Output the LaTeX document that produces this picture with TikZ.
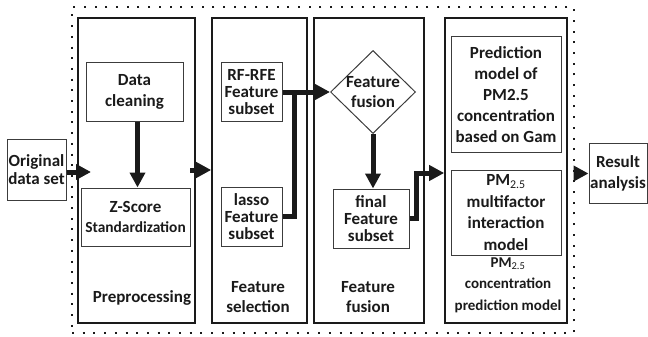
\documentclass[tikz,border=0pt]{standalone}
\usepackage{fontspec}
\setmainfont{Carlito}
\usetikzlibrary{arrows.meta,shapes.geometric}
\definecolor{ink}{HTML}{1A1A1A}
\tikzset{
    every node/.style={font=\fontsize{17}{20.7}\selectfont\bfseries, text=ink, align=center, inner sep=1pt},
    panel/.style={draw=ink, line width=1.6pt, minimum height=305pt},
    stepbox/.style={draw=ink!85, line width=1pt},
    tight/.style={font=\fontsize{17}{16.7}\selectfont\bfseries},
    flow/.style={draw=ink, line width=5pt, -{Triangle[length=15pt,width=15pt]}},
    flowline/.style={draw=ink, line width=5pt}
}
\begin{document}
\begin{tikzpicture}[x=1pt,y=-1pt]
        \useasboundingbox
            (0,0) rectangle (648,337);
        \node[draw=ink, line width=2pt, dash pattern=on 2pt off 8.7pt, minimum width=502pt, minimum height=326pt]
            (frame) at (323,170) {};
        \node[panel, minimum width=117pt] (prep) at (136.5,170.5) {};
        \node[panel, minimum width=95pt] (sel) at (259.5,170.5) {};
        \node[panel, minimum width=110pt] (fus) at (369,170.5) {};
        \node[panel, minimum width=122pt] (pred) at (506,170.5) {};
        \node (preplab) at (142,298) {Preprocessing};
        \node (sellab) at (258,297) {Feature\\selection};
        \node (fuslab) at (368,297) {Feature\\fusion};
        \node[font=\fontsize{15}{21.5}\selectfont\bfseries]
            (predlab) at (508,285) {PM\textsubscript{\mdseries 2.5}\\concentration\\prediction model};
        \node[stepbox, font=\fontsize{17}{18}\selectfont\bfseries, minimum width=59pt, minimum height=61pt]
            (orig) at (36.5,169.5) {Original\\data set};
        \node[stepbox, minimum width=97pt, minimum height=58pt]
            (clean) at (134.5,92) {Data\\cleaning};
        \node[stepbox, font=\fontsize{17}{20}\selectfont\bfseries, minimum width=109pt, minimum height=58pt]
            (zscore) at (135.5,217) {Z-Score\\{\fontsize{15.4}{20}\selectfont Standardization}};
        \node[stepbox, tight, minimum width=61pt, minimum height=58pt]
            (rfrfe) at (251.5,92) {RF-RFE\\Feature\\subset};
        \node[stepbox, tight, minimum width=61pt, minimum height=59pt]
            (lasso) at (251.5,216.5) {lasso\\Feature\\subset};
        \node[draw=ink!85, line width=1pt, diamond, inner sep=-2pt, minimum width=85pt, minimum height=83pt]
            (fusion) at (373,92) {Feature\\fusion};
        \node[stepbox, tight, minimum width=76pt, minimum height=59pt]
            (final) at (371,218.5) {final\\Feature\\subset};
        \node[stepbox, font=\fontsize{17}{21}\selectfont\bfseries, minimum width=110pt, minimum height=115pt]
            (gam) at (506,94.5) {Prediction\\model of\\PM2.5\\concentration\\based on Gam};
        \node[stepbox, font=\fontsize{17}{21.5}\selectfont\bfseries, minimum width=110pt, minimum height=85pt]
            (multi) at (506,212.5) {PM\textsubscript{\mdseries 2.5}\\multifactor\\interaction\\model};
        \node[stepbox, minimum width=58pt, minimum height=60pt]
            (result) at (618,173.5) {Result\\analysis};
        \coordinate (inprep) at (91,172);
        \coordinate (outprep) at (190,170);
        \coordinate (merge) at (294,92);
        \coordinate (bend) at (416,173);
        \draw[flow]
            (orig.east |- inprep) -- (inprep);
        \draw[flow]
            ([xshift=3pt]clean.south) -- ([xshift=3pt]clean.south |- zscore.north);
        \draw[flow]
            (outprep) -- (sel.west |- outprep);
        \draw[flowline]
            (lasso.east) -| (merge);
        \draw[flow]
            (rfrfe.east) -- (fusion.west);
        \draw[flow]
            (fusion.south) -- (fusion.south |- final.north);
        \draw[flow]
            (final.east) -| (bend) -- (pred.west |- bend);
        \draw[flow]
            (frame.east |- result) -- (result.west);
    \end{tikzpicture}
\end{document}
